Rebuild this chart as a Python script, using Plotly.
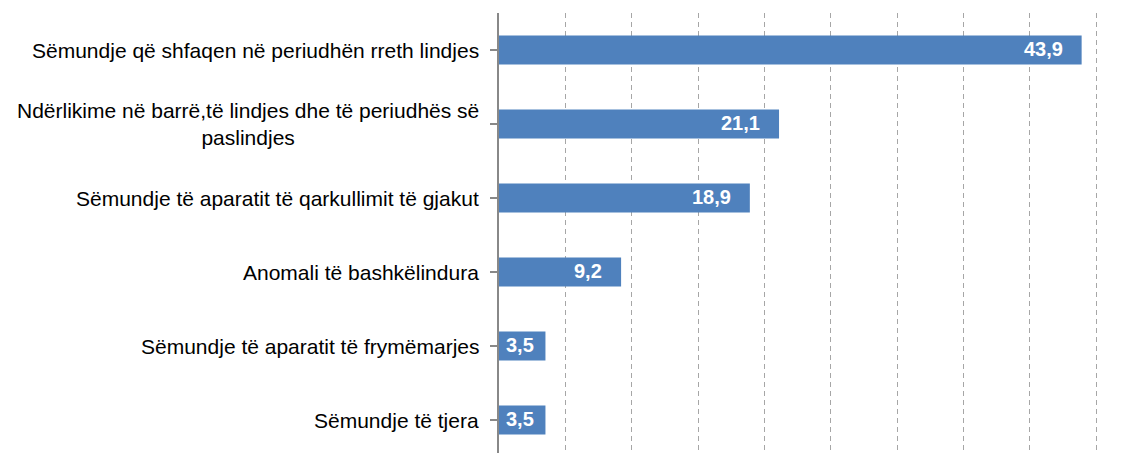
import plotly.graph_objects as go

categories = [
    "Sëmundje që shfaqen në periudhën rreth lindjes",
    "Ndërlikime në barrë,të lindjes dhe të periudhës së<br>paslindjes",
    "Sëmundje të aparatit të qarkullimit të gjakut",
    "Anomali të bashkëlindura",
    "Sëmundje të aparatit të frymëmarjes",
    "Sëmundje të tjera",
]
values = [43.9, 21.1, 18.9, 9.2, 3.5, 3.5]
value_labels = ["43,9", "21,1", "18,9", "9,2", "3,5", "3,5"]

idx = list(range(len(categories)))

X_MAX = 48.9
FIG_W, MARG_L = 1140, 491
px_per_unit = (FIG_W - MARG_L) / X_MAX
LABEL_SIZE = 20

fig = go.Figure()
fig.add_trace(go.Bar(
    x=values,
    y=idx,
    orientation="h",
    width=0.39,
    marker=dict(color="#4F81BD", line=dict(width=0)),
    hoverinfo="skip",
))

annotations = []
for i, (c, v, t) in enumerate(zip(categories, values, value_labels)):
    annotations.append(dict(
        x=0, xref="paper", y=i, yref="y",
        text=c, showarrow=False, xanchor="right", yanchor="middle",
        xshift=-18, align="center",
        font=dict(family="Liberation Sans, Arial", size=21, color="#000000"),
    ))
    # approximate label width (bold Arial digits 0.556em, comma 0.278em)
    text_px = sum(0.278 if ch == "," else 0.556 for ch in t) * LABEL_SIZE
    bar_px = v * px_per_unit
    pad = min(17, max(2, (bar_px - text_px) / 2))
    annotations.append(dict(
        x=v, xref="x", y=i, yref="y",
        text=t, showarrow=False, xanchor="right", yanchor="middle",
        xshift=-pad, yshift=1,
        font=dict(family="Liberation Sans, Arial", size=LABEL_SIZE, color="#FFFFFF", weight="bold"),
    ))

fig.update_layout(
    width=FIG_W, height=445,
    margin=dict(l=MARG_L, r=0, t=5, b=0),
    paper_bgcolor="white", plot_bgcolor="white",
    showlegend=False,
    annotations=annotations,
    xaxis=dict(
        range=[0, X_MAX], dtick=5, tick0=0,
        showgrid=True, gridcolor="#A6A6A6", gridwidth=1.3, griddash="5px,4px",
        zeroline=False, showline=False, showticklabels=False, ticks="",
    ),
    yaxis=dict(
        range=[5.446, -0.5],
        tickmode="array", tickvals=idx, ticktext=[""] * len(idx),
        showticklabels=False,
        showgrid=False, zeroline=False,
        showline=True, linecolor="#888888", linewidth=2,
        ticks="outside", ticklen=7, tickcolor="#888888", tickwidth=2,
        tickson="boundaries",
    ),
)

fig.write_html("out.html")
